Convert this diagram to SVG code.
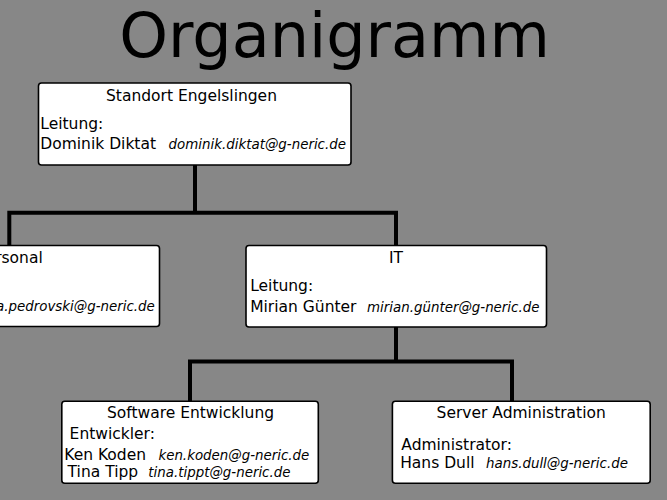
<svg xmlns="http://www.w3.org/2000/svg" width="667" height="500" viewBox="0 0 667 500">
<style>
.box{fill:#ffffff;stroke:#000000;stroke-width:1.6}
.t{font-family:"DejaVu Sans",Verdana,sans-serif;font-size:15.5px;fill:#000000}
.m{font-family:"DejaVu Sans",Verdana,sans-serif;font-size:13.4px;font-style:italic;fill:#000000}
.c{text-anchor:middle}
.con{fill:none;stroke:#000000;stroke-width:4;stroke-linejoin:miter;stroke-linecap:butt}
</style>
<rect x="0" y="0" width="667" height="500" fill="#878787"/>
<text x="334.5" y="57" class="c" style="font-family:'DejaVu Sans',Verdana,sans-serif;font-size:62px;fill:#000000">Organigramm</text>
<g id="connectors">
<path class="con" d="M195,165 V212.7"/>
<path class="con" d="M9.3,245 V212.7 H396 V245"/>
<path class="con" d="M396,327 V361.5"/>
<path class="con" d="M190,401 V361.5 H512 V401"/>
</g>
<g id="node-standort">
<rect class="box" x="38.5" y="83" width="312.5" height="82" rx="3"/>
<text class="t c" x="191.5" y="101">Standort Engelslingen</text>
<text class="t" x="40.3" y="128.5">Leitung:</text>
<text class="t" x="40.3" y="148.5">Dominik Diktat</text>
<text class="m" x="168.6" y="148.5">dominik.diktat@g-neric.de</text>
</g>
<g id="node-personal">
<rect class="box" x="-150" y="245.5" width="309.5" height="81" rx="3"/>
<text class="t" x="42.7" y="263.3" text-anchor="end">Personal</text>
<text class="m" x="154.8" y="311" text-anchor="end">a.pedrovski@g-neric.de</text>
</g>
<g id="node-it">
<rect class="box" x="246" y="245.5" width="300.5" height="81.5" rx="3"/>
<text class="t c" x="396" y="263.3">IT</text>
<text class="t" x="250.2" y="290.8">Leitung:</text>
<text class="t" x="250.2" y="311.7">Mirian Günter</text>
<text class="m" x="367" y="311.7">mirian.günter@g-neric.de</text>
</g>
<g id="node-software">
<rect class="box" x="61.8" y="401.2" width="256.5" height="82" rx="3"/>
<text class="t c" x="190.5" y="417.7">Software Entwicklung</text>
<text class="t" x="69.6" y="439">Entwickler:</text>
<text class="t" x="64.3" y="460">Ken Koden</text>
<text class="m" x="158.4" y="460">ken.koden@g-neric.de</text>
<text class="t" x="67.6" y="477.3">Tina Tipp</text>
<text class="m" x="148.3" y="477.3">tina.tippt@g-neric.de</text>
</g>
<g id="node-server">
<rect class="box" x="392.4" y="401.2" width="257.8" height="82" rx="3"/>
<text class="t c" x="521.2" y="417.7">Server Administration</text>
<text class="t" x="401.3" y="450">Administrator:</text>
<text class="t" x="400.2" y="467.7">Hans Dull</text>
<text class="m" x="486" y="467.7">hans.dull@g-neric.de</text>
</g>
</svg>
